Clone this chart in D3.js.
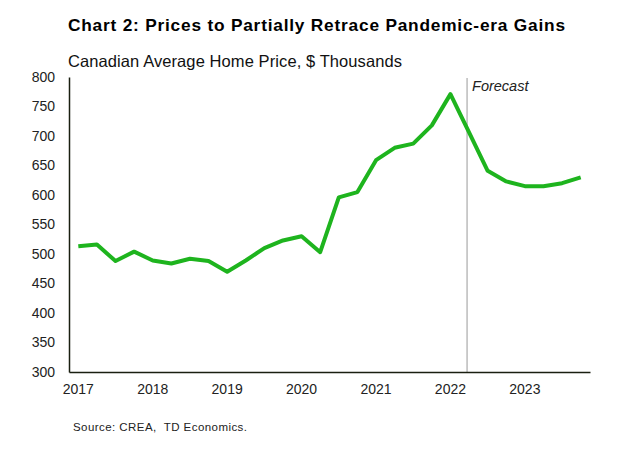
<!DOCTYPE html>
<html><head><meta charset="utf-8">
<script src="https://cdn.jsdelivr.net/npm/d3@7"></script>
<style>body{margin:0;background:#fff}svg{display:block}text{font-family:"Liberation Sans",Arial,sans-serif}</style>
</head><body>
<svg id="c" width="638" height="460"></svg>
<script>
const quarters = [];
const years = [2017,2018,2019,2020,2021,2022,2023];
years.forEach(y => [1,2,3,4].forEach(q => quarters.push(y + "Q" + q)));
const prices = [513,516,488,504,489,484,492,488,470,489,510,523,530,503,596,605,659,680,687,718,771,706,641,623,615,615,620,630];
const yTicks = [300,350,400,450,500,550,600,650,700,750,800];
const forecastStart = "2022Q2";

const svg = d3.select("#c");
const m = {left:69, right:590, top:77, bottom:372};
const x = d3.scaleBand().domain(quarters).range([m.left, m.right]);
const y = d3.scaleLinear().domain([300,800]).range([m.bottom, m.top]);
const cx = d => x(d) + x.bandwidth()/2;

svg.append("text").attr("x",68).attr("y",31).attr("font-weight","bold").attr("font-size",17.3).attr("fill","#000")
  .attr("textLength",497).attr("lengthAdjust","spacing")
  .text("Chart 2: Prices to Partially Retrace Pandemic-era Gains");
svg.append("text").attr("x",68).attr("y",67).attr("font-size",16.5).attr("fill","#111")
  .attr("textLength",334).attr("lengthAdjust","spacing")
  .text("Canadian Average Home Price, $ Thousands");

// forecast line
svg.append("line").attr("x1",cx(forecastStart)-2).attr("x2",cx(forecastStart)-2)
  .attr("y1",78).attr("y2",m.bottom).attr("stroke","#9a9a9a").attr("stroke-width",1);
svg.append("text").attr("x",cx(forecastStart)+3).attr("y",91).attr("font-style","italic").attr("font-size",14.5).attr("fill","#222").text("Forecast");

// y axis
const ya = svg.append("g").attr("transform",`translate(${m.left},0)`)
  .call(d3.axisLeft(y).tickValues(yTicks).tickSize(0).tickPadding(14));
ya.select(".domain").attr("stroke","#1a1f10").attr("stroke-width",1.5);
ya.selectAll("text").attr("font-size",14).attr("fill","#222").attr("font-family","Liberation Sans, Arial, sans-serif");

// x axis
const xa = svg.append("g").attr("transform",`translate(0,${m.bottom})`)
  .call(d3.axisBottom(x).tickValues(quarters.filter(q=>q.endsWith("Q1"))).tickFormat(q=>q.slice(0,4)).tickSize(0).tickPadding(12));
xa.select(".domain").attr("stroke","#1a1f10").attr("stroke-width",1.5);
xa.selectAll("text").attr("font-size",14).attr("fill","#222").attr("font-family","Liberation Sans, Arial, sans-serif");

// line
const line = d3.line().x((d,i)=>cx(quarters[i])).y(d=>y(d));
svg.append("path").datum(prices).attr("d",line).attr("fill","none").attr("stroke","#1eb41e").attr("stroke-width",4).attr("stroke-linejoin","round");

svg.append("text").attr("x",73).attr("y",431).attr("font-size",11.5).attr("fill","#222")
  .attr("textLength",174).attr("lengthAdjust","spacing")
  .style("white-space","pre").text("Source: CREA,  TD Economics.");
</script>
</body></html>
